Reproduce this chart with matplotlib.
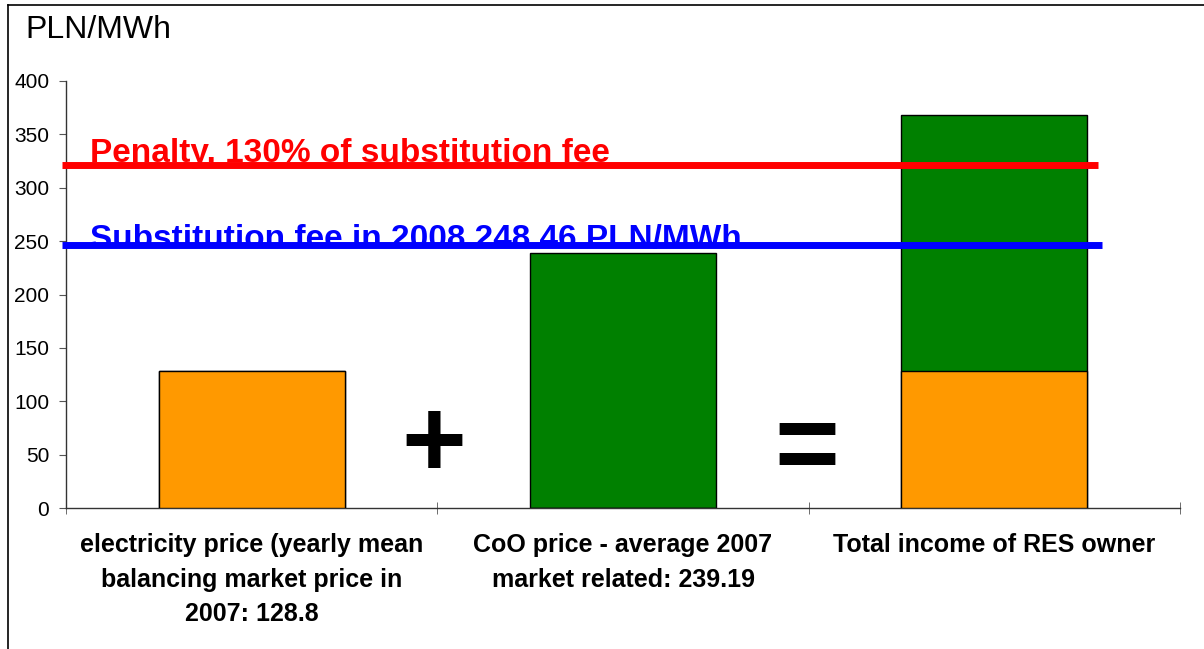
import matplotlib
matplotlib.use("Agg")
import matplotlib.pyplot as plt
from matplotlib.lines import Line2D

plt.rcParams['font.family'] = ['Liberation Sans', 'DejaVu Sans']

# data
categories = ['electricity price (yearly mean\nbalancing market price in\n2007: 128.8',
              'CoO price - average 2007\nmarket related: 239.19',
              'Total income of RES owner']
electricity = [128.8, 0, 128.8]
coo = [0, 239.19, 239.19]
penalty_level = 321.5
subst_level = 246.0
penalty_text = 'Penalty, 130% of substitution fee'
subst_text = 'Substitution fee in 2008 248.46 PLN/MWh'
yticks = [0, 50, 100, 150, 200, 250, 300, 350, 400]

orange = '#FF9900'
green = '#008000'

W, H = 1204, 649
fig = plt.figure(figsize=(W / 100, H / 100), dpi=100)
ax = fig.add_axes([66 / W, 1 - 508.3 / H, (1180 - 66) / W, (508.3 - 80.7) / H])

x = list(range(len(categories)))
# stacked bars: green (CoO) on top of orange (electricity)
ax.bar(x, [e + c for e, c in zip(electricity, coo)], width=0.5, color=green,
       edgecolor='black', linewidth=1, zorder=2)
ax.bar(x, electricity, width=0.5, color=orange, edgecolor='black', linewidth=1, zorder=3)

# reference lines with their labels
ax.text(-0.435, 324, penalty_text, color='#FF0000', fontsize=24, fontweight='bold',
        va='baseline', ha='left', zorder=4)
ax.text(-0.435, 243.5, subst_text, color='#0000FF', fontsize=24, fontweight='bold',
        va='baseline', ha='left', zorder=4)
ax.hlines(penalty_level, -0.51, 2.28, color='#FF0000', linewidth=5, zorder=5, clip_on=False)
ax.hlines(subst_level, -0.51, 2.29, color='#0000FF', linewidth=5, zorder=5, clip_on=False)

# + and = signs between the bars
ax.text(0.49, 56, '+', fontsize=80, fontweight='bold', ha='center', va='center', zorder=4)
ax.text(1.496, 53, '=', fontsize=80, fontweight='bold', ha='center', va='center', zorder=4)

ax.set_xlim(-0.5, 2.5)
ax.set_ylim(0, 400)
ax.set_yticks(yticks)
ax.tick_params(axis='y', labelsize=15, length=5, pad=7, color='#555555')
ax.set_xticks(x)
ax.set_xticklabels(categories, fontsize=18, fontweight='bold', linespacing=1.55)
ax.set_xticks([-0.5, 0.5, 1.5, 2.5], minor=True)
ax.tick_params(axis='x', which='major', direction='in', length=3, pad=18, color='#555555')
ax.tick_params(axis='x', which='minor', direction='inout', length=9, color='#555555')
for s in ['top', 'right']:
    ax.spines[s].set_visible(False)
for s in ['left', 'bottom']:
    ax.spines[s].set_color('#333333')
    ax.spines[s].set_linewidth(1)

fig.text(25 / W, 1 - 38 / H, 'PLN/MWh', fontsize=23, va='baseline', ha='left')

# outer frame (top and left edges)
fig.add_artist(Line2D([8 / W, 8 / W], [0, 1 - 5 / H], color='black', linewidth=1.2))
fig.add_artist(Line2D([8 / W, 1], [1 - 5 / H, 1 - 5 / H], color='black', linewidth=1.2))

fig.savefig('out.png', dpi=100)
